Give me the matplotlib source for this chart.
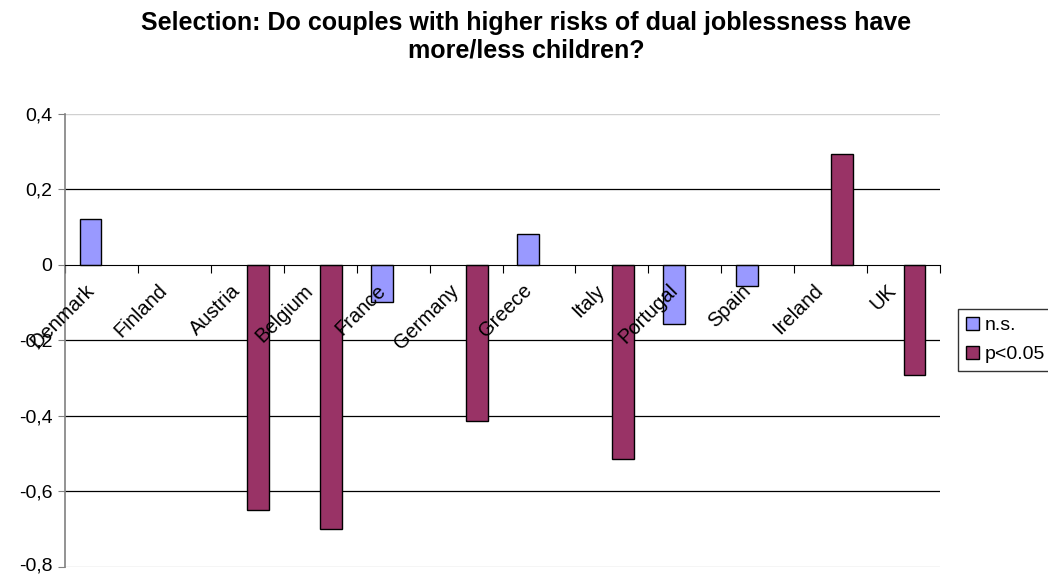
import matplotlib.pyplot as plt
import matplotlib.transforms as mtransforms
import numpy as np

plt.rcParams['font.family'] = ['Liberation Sans', 'DejaVu Sans']

countries = ["Denmark", "Finland", "Austria", "Belgium", "France", "Germany",
             "Greece", "Italy", "Portugal", "Spain", "Ireland", "UK"]
# nan = no bar in that slot
not_sig = [0.122, np.nan, np.nan, np.nan, -0.099, np.nan,
           0.082, np.nan, -0.157, -0.057, np.nan, np.nan]
sig = [np.nan, np.nan, -0.65, -0.70, np.nan, -0.415,
       np.nan, -0.515, np.nan, np.nan, 0.294, -0.291]
yticks = [-0.8, -0.6, -0.4, -0.2, 0, 0.2, 0.4]

fig = plt.figure(figsize=(10.48, 5.75), dpi=100)
ax = fig.add_axes([0.062, 0.0144, 0.835, 0.7873])

x = np.arange(len(countries)) + 0.5
w = 0.3
ax.bar(x - w / 2, not_sig, w, color="#9999FF", edgecolor="black", lw=1,
       label="n.s.", zorder=3)
ax.bar(x + w / 2, sig, w, color="#993366", edgecolor="black", lw=1,
       label="p<0.05", zorder=3)

ax.set_xlim(0, len(countries))
ax.set_ylim(-0.8, 0.4)

# gridlines
for v in yticks:
    if v in (-0.8, 0.4):
        ax.axhline(v, color="#d0d0d0", lw=1, zorder=1)
    elif v != 0:
        ax.axhline(v, color="black", lw=0.9, zorder=1)

ax.set_yticks(yticks)
ax.set_yticklabels([("%g" % v).replace(".", ",") for v in yticks], fontsize=14)
ax.tick_params(axis="y", length=5, color="#808080", pad=4)

for s in ["top", "right"]:
    ax.spines[s].set_visible(False)
ax.spines["left"].set_color("#808080")
ax.spines["left"].set_linewidth(1.2)

# category axis sits at zero
ax.spines["bottom"].set_position(("data", 0))
ax.spines["bottom"].set_color("black")
ax.spines["bottom"].set_zorder(4)
ax.set_xticks(np.arange(len(countries) + 1))
ax.set_xticklabels([])
ax.tick_params(axis="x", direction="out", length=6, color="black")

for xi, name in zip(x, countries):
    ax.annotate(name, xy=(xi, 0), xytext=(-17, -16), textcoords="offset pixels",
                rotation=45, rotation_mode="anchor", ha="right", va="top",
                fontsize=14.5, zorder=5)

# nudge the lowest y label up so it stays inside the figure
low = ax.get_yticklabels()[0]
low.set_transform(low.get_transform() +
                  mtransforms.ScaledTranslation(0, 3 / 100, fig.dpi_scale_trans))

fig.text(0.502, 1 - 37 / 575,
         "Selection: Do couples with higher risks of dual joblessness have\n"
         "more/less children?", ha="center", va="center", fontsize=18,
         fontweight="bold", linespacing=1.2)

leg = fig.legend(loc="upper left", bbox_to_anchor=(0.914, 0.463), fontsize=14,
                 frameon=True, fancybox=False, edgecolor="black",
                 handlelength=0.7, handleheight=0.7, handletextpad=0.3,
                 borderpad=0.4, labelspacing=0.6, borderaxespad=0)
leg.get_frame().set_linewidth(1)

plt.savefig("out.png", dpi=100)
plt.close()
